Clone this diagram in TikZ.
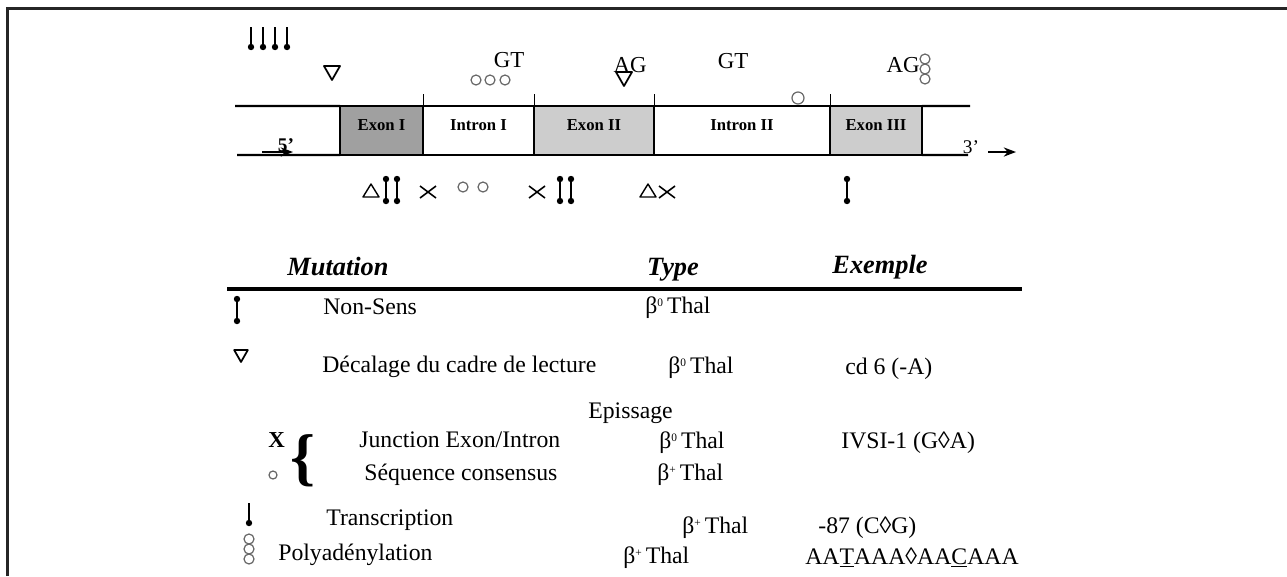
\documentclass[tikz,border=0pt]{standalone}
\usepackage{fontspec}
\setmainfont{Liberation Serif}
\usetikzlibrary{positioning,arrows.meta,calc}
\definecolor{ExonDark}{RGB}{160,160,160}
\definecolor{ExonLight}{RGB}{205,205,205}
\definecolor{ConsGray}{RGB}{105,105,105}
\newcommand{\thal}[1]{β\raisebox{0.6ex}{\fontsize{6.5}{7}\selectfont#1}\,Thal}

\begin{document}
\begin{tikzpicture}[x=0.02cm, y=-0.02cm,
  every node/.style={font=\fontsize{13.5}{16}\selectfont, inner sep=0pt},
  genebox/.style={draw, line width=1.3pt, outer sep=0pt, minimum height=0.98cm,
    font=\fontsize{9.5}{11}\selectfont\bfseries, text height=1.5ex, text depth=1.5ex},
  head/.style={font=\fontsize{15}{17}\selectfont\bfseries\itshape, anchor=base},
  cell/.style={anchor=base west},
  site/.style={font=\fontsize{13}{15}\selectfont, anchor=base},
  nonsensemark/.pic={\draw[line width=0.9pt] (0,-11) -- (0,11);
    \fill (0,-11) circle (3.2); \fill (0,11) circle (3.2);},
  promomark/.pic={\draw[line width=0.8pt] (0,-11) -- (0,9); \fill (0,9) circle (3.2);},
  consmark/.pic={\draw[ConsGray, line width=0.7pt] (0,0) circle (5);},
  polyamark/.pic={\foreach \k in {-10,0,10} \draw[ConsGray, line width=0.7pt] (0,\k) circle (5);},
  fsmark/.pic={\draw[line width=1pt, line join=round] (-8,-7) -- (8,-7) -- (0,7) -- cycle;},
  delmark/.pic={\draw[line width=0.8pt, line join=round] (-8,6) -- (8,6) -- (0,-7) -- cycle;},
  jxmark/.pic={\draw[line width=0.9pt] (-8,-6) -- (8,6) (-8,6) -- (8,-6);}]
  \useasboundingbox (0,0) rectangle (1287,576);
  % frame
  \draw[line width=1.7pt, black!85] (7.5,576) -- (7.5,8.5) -- (1287,8.5);

  % gene
  \node[genebox, fill=ExonDark, minimum width=1.66cm] (ex1) at (381.5,130.5) {Exon I};
  \node[genebox, fill=white, minimum width=2.22cm, right=0pt of ex1] (in1) {Intron I};
  \node[genebox, fill=ExonLight, minimum width=2.40cm, right=0pt of in1] (ex2) {Exon II};
  \node[genebox, fill=white, minimum width=3.52cm, right=0pt of ex2] (in2) {Intron II};
  \node[genebox, fill=ExonLight, minimum width=1.84cm, right=0pt of in2] (ex3) {Exon III};
  \draw[line width=1.2pt] (235,106) -- (ex1.north west) (ex3.north east) -- (970,106);
  \draw[line width=1.2pt] (237,155) -- (ex1.south west) (ex3.south east) -- (968,155);
  \foreach \b in {ex1,in1,ex2,in2} \draw[line width=0.4pt] (\b.north east) -- ++(0,-12);

  \node[font=\fontsize{11}{12}\selectfont\bfseries, anchor=base] (five) at (286,151) {5'};
  \coordinate (a5s) at (262,152);
  \coordinate (a5e) at (293,152);
  \draw[-{Stealth[length=7pt]}, line width=0.8pt] (a5s) -- (a5e);
  \node[font=\fontsize{11}{12}\selectfont, anchor=base] (three) at (971,153) {3'};
  \coordinate (a3s) at (988,152);
  \coordinate (a3e) at (1016,152);
  \draw[-{Stealth[length=7pt]}, line width=0.8pt] (a3s) -- (a3e);

  % sites above
  \foreach \px in {251,263,275,287} \pic at (\px,38) {promomark};
  \pic at (332,73) {fsmark};
  \node[site] (gt1) at (509,67) {GT};
  \foreach \px in {476,490,505} \pic at (\px,80) {consmark};
  \node[site] (ag1) at (630,72) {AG};
  \pic at (624,79) {fsmark};
  \node[site] (gt2) at (733,68) {GT};
  \pic[scale=1.2] at (798,98) {consmark};
  \node[site] (ag2) at (903,72) {AG};
  \pic at (925,69) {polyamark};

  % sites below
  \pic at (371,191) {delmark};
  \pic at (386,190) {nonsensemark};
  \pic at (397,190) {nonsensemark};
  \pic at (428,192) {jxmark};
  \pic at (463,187) {consmark};
  \pic at (483,187) {consmark};
  \pic at (537,192) {jxmark};
  \pic at (560,190) {nonsensemark};
  \pic at (571,190) {nonsensemark};
  \pic at (648,191) {delmark};
  \pic at (667,192) {jxmark};
  \pic at (847,190) {nonsensemark};

  % table
  \node[head] (hmut) at (338,275) {Mutation};
  \node[head] (htype) at (673,275) {Type};
  \node[head] (hex) at (880,273) {Exemple};
  \draw[line width=1.8pt] (227,289) -- (1022,289);

  \pic at (237,310) {nonsensemark};
  \node[cell] (nonsens) at (323,314) {Non-Sens};
  \node[cell] (t1) at (645,313) {\thal{0}};

  \pic[scale=0.85] at (241,356) {fsmark};
  \node[cell] (decal) at (322,372) {Décalage du cadre de lecture};
  \node[cell] (t2) at (668,373) {\thal{0}};
  \node[cell] (e2) at (845,374) {cd 6 (-A)};

  \node[cell] (epis) at (588,418) {Epissage};
  \node[cell, font=\fontsize{13}{15}\selectfont\bfseries] (xlab) at (268,447) {X};
  \node[font=\fontsize{36}{36}\selectfont\bfseries] (brace) at (303,461) {\{};
  \node[cell] (junc) at (359,447) {Junction Exon/Intron};
  \node[cell] (t3) at (659,448) {\thal{0}};
  \node[cell] (e3) at (841,448) {IVSI-1 (G◊A)};
  \pic[scale=0.8] at (273,475) {consmark};
  \node[cell] (seq) at (364,480) {Séquence consensus};
  \node[cell] (t4) at (657,480) {\thal{+}};

  \pic at (249,514) {promomark};
  \node[cell] (transc) at (326,525) {Transcription};
  \node[cell] (t5) at (682,533) {\thal{+}};
  \node[cell] (e5) at (818,533) {-87 (C◊G)};
  \pic at (249,549) {polyamark};
  \node[cell] (polya) at (278,560) {Polyadénylation};
  \node[cell] (t6) at (623,563) {\thal{+}};
  \node[cell] (e6) at (805,564) {AA\underline{T}AAA◊AA\underline{C}AAA};
\end{tikzpicture}
\end{document}
